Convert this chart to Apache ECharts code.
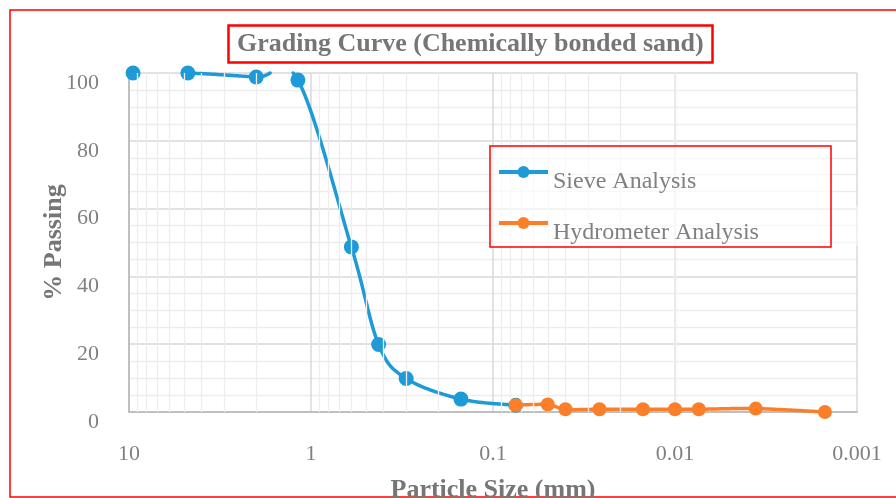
<!DOCTYPE html>
<html>
<head>
<meta charset="utf-8">
<title>Grading Curve</title>
<script src="https://cdn.jsdelivr.net/npm/echarts@6/dist/echarts.min.js"></script>
<style>
  html, body { margin: 0; padding: 0; background: #ffffff; }
  #chart { width: 896px; height: 498px; }
</style>
</head>
<body>
<div id="chart"></div>
<script>
// Sieve analysis: sieve opening (mm) and percent passing
const sieveSize = [9.5, 4.75, 2.0, 1.18, 0.6, 0.425, 0.3, 0.15, 0.075];
const sievePassing = [100, 100, 98.8, 97.9, 48.7, 19.9, 9.9, 3.8, 2.0];

// Hydrometer analysis: equivalent particle diameter (mm) and percent passing
const hydroSize = [0.075, 0.05, 0.04, 0.026, 0.015, 0.01, 0.0074, 0.0036, 0.0015];
const hydroPassing = [2.0, 2.2, 0.8, 0.8, 0.8, 0.8, 0.8, 1.0, 0];

const seriesNames = ['Sieve Analysis', 'Hydrometer Analysis'];
const xTickLabels = ['10', '1', '0.1', '0.01', '0.001'];
const yTickLabels = ['0', '20', '40', '60', '80', '100'];
const Y_MIN = 0;
const Y_MAX = 100;

// Log-cycle minor gridlines at 2..9 within each decade
const decadeStarts = [1, 0.1, 0.01, 0.001];
const decadeSteps = [2, 3, 4, 5, 6, 7, 8, 9];

const SERIF = '"Liberation Serif", "Times New Roman", serif';
const BLUE = '#1e9ad7';
const ORANGE = '#fb7f29';
const GREY_TEXT = '#808080';
const TITLE_TEXT = '#767676';
const LINE_W = 3.5;

const minorX = [];
decadeStarts.forEach(d => decadeSteps.forEach(k => minorX.push(+(k * d).toPrecision(3))));

// Smoothed curve: cubic Bezier segments with Catmull-Rom tangents (1/6 chord),
// sampled in pixel space; the geometry is cut where it leaves the value range,
// so any overshoot past 0 % or 100 % is simply not drawn.
function curveRuns(api, xs, ys) {
  const p = xs.map((x, i) => api.coord([x, ys[i]]));
  const top = api.coord([xs[0], Y_MAX])[1];
  const bottom = api.coord([xs[0], Y_MIN])[1];
  const inside = q => q[1] >= top - 0.01 && q[1] <= bottom + 0.01;
  const cross = (a, b) => {
    const edge = (b[1] < top - 0.01 || a[1] < top - 0.01) ? top : bottom;
    const t = (edge - a[1]) / (b[1] - a[1]);
    return [a[0] + (b[0] - a[0]) * t, edge];
  };
  const samples = [p[0]];
  for (let i = 0; i < p.length - 1; i++) {
    const p0 = p[Math.max(i - 1, 0)];
    const p1 = p[i];
    const p2 = p[i + 1];
    const p3 = p[Math.min(i + 2, p.length - 1)];
    const c1 = [p1[0] + (p2[0] - p0[0]) / 6, p1[1] + (p2[1] - p0[1]) / 6];
    const c2 = [p2[0] - (p3[0] - p1[0]) / 6, p2[1] - (p3[1] - p1[1]) / 6];
    const steps = 48;
    for (let s = 1; s <= steps; s++) {
      const t = s / steps, u = 1 - t;
      const a = u * u * u, b = 3 * u * u * t, c = 3 * u * t * t, e = t * t * t;
      samples.push([
        a * p1[0] + b * c1[0] + c * c2[0] + e * p2[0],
        a * p1[1] + b * c1[1] + c * c2[1] + e * p2[1]
      ]);
    }
  }
  const runs = [];
  let cur = inside(samples[0]) ? [samples[0]] : [];
  for (let k = 1; k < samples.length; k++) {
    const prev = samples[k - 1], q = samples[k];
    const pin = inside(prev), qin = inside(q);
    if (pin && qin) {
      cur.push(q);
    } else if (pin && !qin) {
      cur.push(cross(prev, q));
      if (cur.length > 1) runs.push(cur);
      cur = [];
    } else if (!pin && qin) {
      cur = [cross(prev, q), q];
    }
  }
  if (cur.length > 1) runs.push(cur);
  return runs;
}

function curveSeries(xs, ys, color, z) {
  return {
    type: 'custom',
    clip: false,
    silent: true,
    z: z,
    data: xs.map((x, i) => [x, ys[i]]),
    renderItem: (params, api) => {
      if (params.dataIndex !== 0) return null;
      return {
        type: 'group',
        children: curveRuns(api, xs, ys).map(run => ({
          type: 'polyline',
          shape: { points: run },
          style: { fill: null, stroke: color, lineWidth: LINE_W, lineJoin: 'round', lineCap: 'round' }
        }))
      };
    }
  };
}

function pointSeries(name, xs, ys, color, size, z) {
  return {
    name: name,
    type: 'line',
    data: xs.map((x, i) => [x, ys[i]]),
    clip: true,
    symbol: 'circle',
    symbolSize: size,
    lineStyle: { color: color, width: 0, opacity: 0 },
    itemStyle: { color: color },
    z: z
  };
}

const chart = echarts.init(document.getElementById('chart'), null, { renderer: 'canvas' });

chart.setOption({
  animation: false,
  backgroundColor: '#ffffff',
  title: {
    text: 'Grading Curve (Chemically bonded sand)',
    left: 228,
    top: 25,
    padding: [4, 9, 4, 9],
    borderColor: '#ff0000',
    borderWidth: 2.5,
    textStyle: {
      fontFamily: SERIF,
      fontSize: 26,
      fontWeight: 'bold',
      color: TITLE_TEXT,
      lineHeight: 30
    }
  },
  grid: { left: 129, right: 39, top: 73, bottom: 86, containLabel: false, outerBoundsMode: 'none' },
  legend: {
    orient: 'vertical',
    left: 497,
    top: 150,
    padding: 0,
    itemGap: 7,
    itemWidth: 49,
    itemHeight: 15,
    z: 8,
    data: [
      { name: seriesNames[0], lineStyle: { color: BLUE, width: 4, opacity: 1 }, itemStyle: { color: BLUE } },
      { name: seriesNames[1], lineStyle: { color: ORANGE, width: 4, opacity: 1 }, itemStyle: { color: ORANGE } }
    ],
    formatter: name => '{t|' + name + '}',
    textStyle: {
      fontFamily: SERIF,
      fontSize: 24,
      color: GREY_TEXT,
      rich: {
        t: { fontFamily: SERIF, fontSize: 24, color: GREY_TEXT, lineHeight: 28, padding: [20, 0, 0, 0] }
      }
    }
  },
  xAxis: {
    type: 'log',
    logBase: 10,
    min: 0.001,
    max: 10,
    inverse: true,
    name: 'Particle Size (mm)',
    nameLocation: 'middle',
    nameGap: 65,
    nameMoveOverlap: false,
    nameTextStyle: {
      fontFamily: SERIF,
      fontSize: 26,
      fontWeight: 'bold',
      color: TITLE_TEXT
    },
    axisLine: { show: true, lineStyle: { color: '#bfbfbf', width: 2 } },
    axisTick: { show: false },
    axisLabel: {
      fontFamily: SERIF,
      fontSize: 22,
      color: GREY_TEXT,
      margin: 31,
      formatter: v => xTickLabels[Math.round(1 - Math.log10(v))]
    },
    splitLine: { show: true, lineStyle: { color: '#d9d9d9', width: 1.5 } }
  },
  yAxis: {
    type: 'value',
    min: Y_MIN,
    max: Y_MAX,
    interval: 20,
    name: '% Passing',
    nameLocation: 'middle',
    nameGap: 62,
    nameMoveOverlap: false,
    nameTextStyle: {
      fontFamily: SERIF,
      fontSize: 26,
      fontWeight: 'bold',
      color: TITLE_TEXT
    },
    axisLine: { show: true, lineStyle: { color: '#bfbfbf', width: 2 } },
    axisTick: { show: false },
    axisLabel: {
      fontFamily: SERIF,
      fontSize: 22,
      color: GREY_TEXT,
      margin: 30,
      verticalAlign: 'top',
      lineHeight: 20,
      formatter: v => yTickLabels[Math.round(v / 20)]
    },
    splitLine: { show: true, lineStyle: { color: '#d9d9d9', width: 1.5 } },
    minorTick: { show: false, splitNumber: 4 },
    minorSplitLine: { show: true, lineStyle: { color: '#ededed', width: 1.3 } }
  },
  graphic: [
    {
      type: 'rect',
      z: 0,
      silent: true,
      shape: { x: 10, y: 10, width: 900, height: 487 },
      style: { fill: null, stroke: '#ff0000', lineWidth: 1.5 }
    },
    {
      type: 'rect',
      z: 7,
      silent: true,
      shape: { x: 490, y: 146, width: 341, height: 101 },
      style: { fill: 'rgba(255,255,255,0.6)', stroke: '#ff0000', lineWidth: 1.5 }
    },
    {
      type: 'rect',
      z: 7,
      silent: true,
      shape: { x: 832, y: 206, width: 26, height: 40 },
      style: { fill: 'rgba(255,255,255,0.5)' }
    }
  ],
  series: [
    {
      type: 'line',
      data: [],
      silent: true,
      z: 1,
      markLine: {
        silent: true,
        symbol: ['none', 'none'],
        label: { show: false },
        animation: false,
        lineStyle: { color: '#ededed', type: 'solid', width: 1.3 },
        emphasis: { disabled: true },
        data: minorX.map(v => ({ xAxis: v }))
      }
    },
    curveSeries(sieveSize, sievePassing, BLUE, 2),
    pointSeries(seriesNames[0], sieveSize, sievePassing, BLUE, 15, 3),
    curveSeries(hydroSize, hydroPassing, ORANGE, 4),
    pointSeries(seriesNames[1], hydroSize, hydroPassing, ORANGE, 14, 5)
  ]
});
</script>
</body>
</html>
